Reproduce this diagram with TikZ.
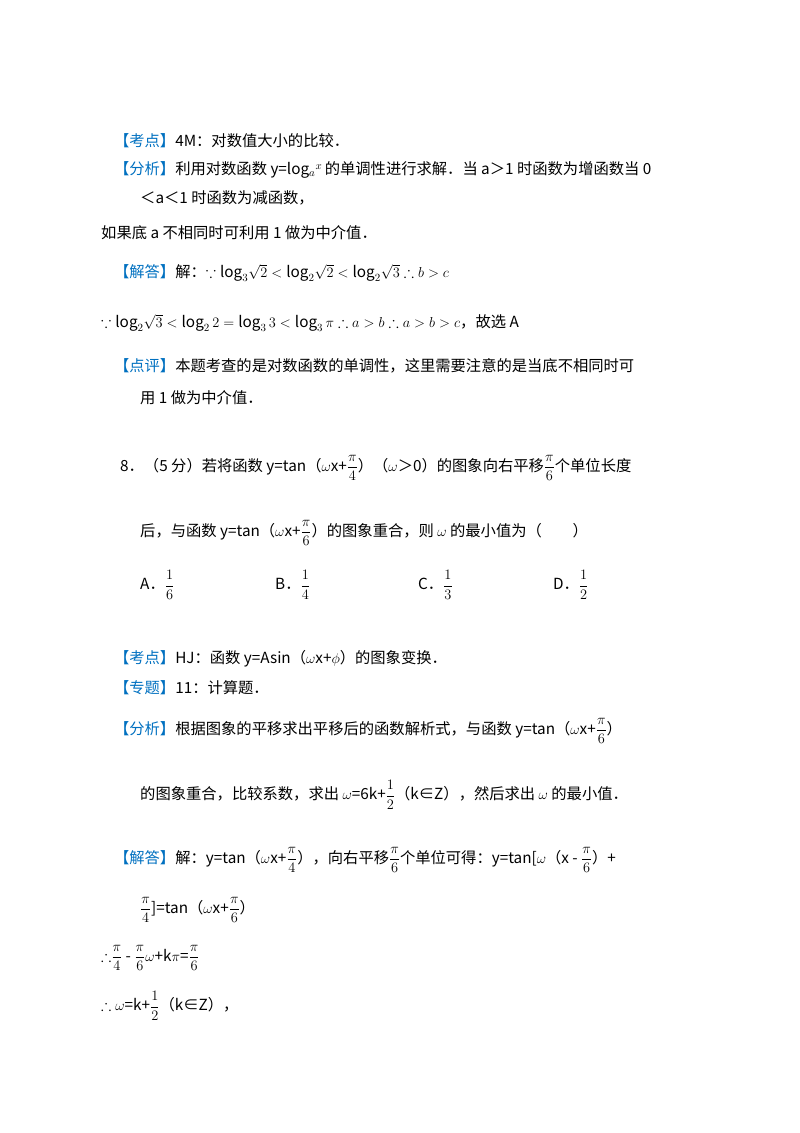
\documentclass[tikz,border=0pt]{standalone}
\usepackage{amsmath,amssymb}
\usepackage{fontspec}
\setmainfont{Noto Sans CJK SC}
\definecolor{tagblue}{RGB}{0,112,192}
\newcommand{\tg}[1]{\hspace{-0.4em}\textcolor{tagblue}{【#1】}}
\newcommand{\fr}[2]{$\dfrac{#1}{#2}$}
\begin{document}
\begin{tikzpicture}[x=1pt,y=-1pt,
  ln/.style={anchor=west,inner sep=0pt,font=\fontsize{15.3}{18}\selectfont}]
\useasboundingbox (0,0) rectangle (800,1133);
\node[ln] (l1) at (120,141) {\tg{考点}4M：对数值大小的比较．};
\node[ln] (l2) at (120,170) {\tg{分析}利用对数函数 y=log$_a{}^{x}$\,的单调性进行求解．当 a＞1 时函数为增函数当 0};
\node[ln] (l3) at (140,198) {＜a＜1 时函数为减函数，};
\node[ln] (l4) at (101,233) {如果底 a 不相同时可利用 1 做为中介值．};
\node[ln] (l5) at (120,273) {\tg{解答}解：$\because\log_3\!\sqrt2<\log_2\!\sqrt2<\log_2\!\sqrt3\therefore b>c$};
\node[ln] (l6) at (101,323) {$\because\log_2\!\sqrt3<\log_2 2=\log_3 3<\log_3\pi\therefore a>b\therefore a>b>c$，故选 A};
\node[ln] (l7) at (120,366) {\tg{点评}本题考查的是对数函数的单调性，这里需要注意的是当底不相同时可};
\node[ln] (l8) at (140,398) {用 1 做为中介值．};
\node[ln] (l9) at (120,468) {8．（5 分）若将函数 y=tan（$\omega$x+\fr{\pi}{4}）（$\omega$＞0）的图象向右平移\fr{\pi}{6}个单位长度};
\node[ln] (l10) at (140,533) {后，与函数 y=tan（$\omega$x+\fr{\pi}{6}）的图象重合，则 $\omega$ 的最小值为（\hspace{2em}）};
\node[ln] (oa) at (140,585) {A．\fr{1}{6}};
\node[ln] (ob) at (275,585) {B．\fr{1}{4}};
\node[ln] (oc) at (418,585) {C．\fr{1}{3}};
\node[ln] (od) at (553,585) {D．\fr{1}{2}};
\node[ln] (l11) at (120,659) {\tg{考点}HJ：函数 y=Asin（$\omega$x+$\phi$）的图象变换．};
\node[ln] (l12) at (120,688) {\tg{专题}11：计算题．};
\node[ln] (l13) at (120,731) {\tg{分析}根据图象的平移求出平移后的函数解析式，与函数 y=tan（$\omega$x+\fr{\pi}{6}）};
\node[ln] (l14) at (140,795) {的图象重合，比较系数，求出 $\omega$=6k+\fr{1}{2}（k∈Z），然后求出 $\omega$ 的最小值．};
\node[ln] (l15) at (120,860) {\tg{解答}解：y=tan（$\omega$x+\fr{\pi}{4}），向右平移\fr{\pi}{6}个单位可得：y=tan[$\omega$（x - \fr{\pi}{6}）+};
\node[ln] (l16) at (140,910) {\fr{\pi}{4}]=tan（$\omega$x+\fr{\pi}{6}）};
\node[ln] (l17) at (101,958) {$\therefore$\fr{\pi}{4} - \fr{\pi}{6}$\omega$+k$\pi$=\fr{\pi}{6}};
\node[ln] (l18) at (101,1006) {$\therefore\omega$=k+\fr{1}{2}（k∈Z），};
\end{tikzpicture}
\end{document}
